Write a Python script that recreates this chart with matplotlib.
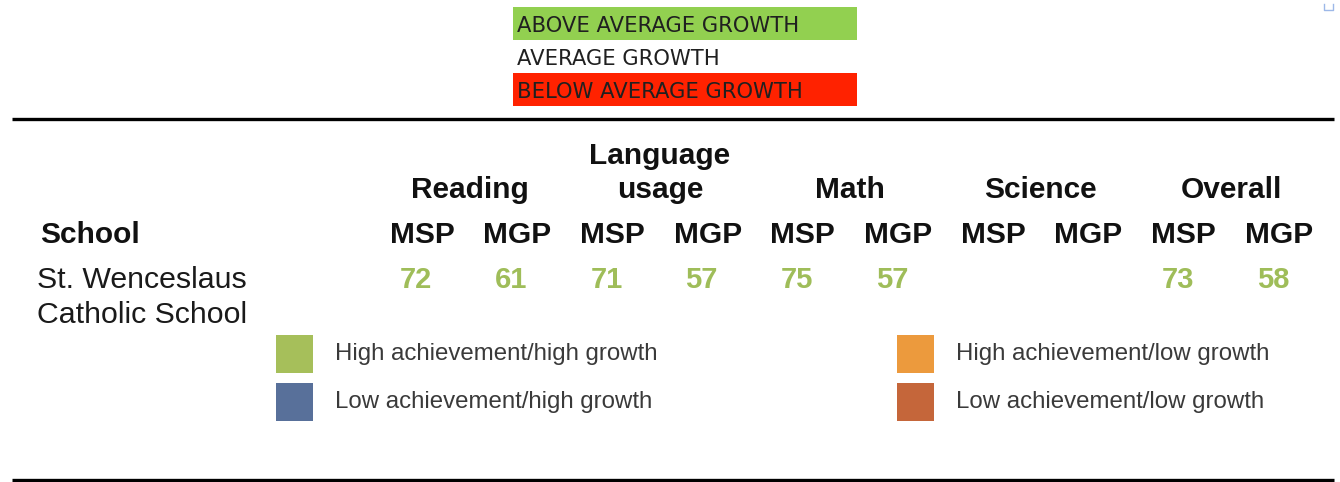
import matplotlib
matplotlib.use("Agg")
import matplotlib.pyplot as plt
from matplotlib.patches import Rectangle

# ---- data ----
growth_labels = ["ABOVE AVERAGE GROWTH", "AVERAGE GROWTH", "BELOW AVERAGE GROWTH"]
growth_colors = ["#92D050", "none", "#FF2200"]
subjects = ["Reading", "Language\nusage", "Math", "Science", "Overall"]
measures = ["MSP", "MGP"]
school_header = "School"
school_name = "St. Wenceslaus\nCatholic School"
scores = [72, 61, 71, 57, 75, 57, None, None, 73, 58]
quad_labels = ["High achievement/high growth", "Low achievement/high growth",
               "High achievement/low growth", "Low achievement/low growth"]
quad_colors = ["#A6BF5A", "#58709A", "#EC9A3D", "#C5663A"]
value_color = "#9FBD59"

W, H = 1340, 482
fig = plt.figure(figsize=(W / 100, H / 100), dpi=100)
ax = fig.add_axes([0, 0, 1, 1])
ax.set_xlim(0, W)
ax.set_ylim(H, 0)
ax.axis("off")

ARIAL = "Liberation Sans"
TOPF = "DejaVu Sans"

# top growth legend
for i, (lab, col) in enumerate(zip(growth_labels, growth_colors)):
    y0 = 7 + i * 33
    if col != "none":
        ax.add_patch(Rectangle((513, y0), 344, 33, facecolor=col, edgecolor="none"))
    ax.text(517, y0 + 25, lab, fontsize=15.2, family=TOPF, color="#202020",
            va="baseline", ha="left")

# tiny mark top-right
ax.plot([1324, 1324, 1333, 1333], [4, 10, 10, 4], color="#9DB8E8", lw=1)

# rules
ax.plot([12, 1334], [119, 119], color="black", lw=2.4, solid_capstyle="butt")
ax.plot([12, 1334], [480, 480], color="black", lw=2.4, solid_capstyle="butt")

# column layout
col0, dcol = 422, 95.2
cols = [col0 + dcol * i for i in range(len(subjects) * len(measures))]

# subject headers
for j, s in enumerate(subjects):
    cx = (cols[2 * j] + cols[2 * j + 1]) / 2
    lines = s.split("\n")
    for k, ln in enumerate(reversed(lines)):
        ax.text(cx, 198 - 34 * k, ln, fontsize=21.5, family=ARIAL, weight="bold",
                color="#111111", ha="center", va="baseline")

# measure headers
ax.text(40, 243, school_header, fontsize=21.5, family=ARIAL, weight="bold",
        color="#111111", ha="left", va="baseline")
for i, c in enumerate(cols):
    ax.text(c, 243, measures[i % 2], fontsize=21.5, family=ARIAL, weight="bold",
            color="#111111", ha="center", va="baseline")

# school row
for k, ln in enumerate(school_name.split("\n")):
    ax.text(37, 288 + 35 * k, ln, fontsize=21.8, family=ARIAL,
            color="#1a1a1a", ha="left", va="baseline")
for c, v in zip(cols, scores):
    if v is not None:
        ax.text(c - 6, 288, str(v), fontsize=21, family=ARIAL, weight="bold",
                color=value_color, ha="center", va="baseline")

# quadrant legend
qx = [276, 276, 897, 897]
qy = [335, 383, 335, 383]
for x, y, lab, col in zip(qx, qy, quad_labels, quad_colors):
    ax.add_patch(Rectangle((x, y), 37, 38, facecolor=col, edgecolor="none"))
    ax.text(x + 59, y + 25, lab, fontsize=17.3, family=ARIAL, color="#3a3a3a",
            ha="left", va="baseline")

fig.savefig("out.png", dpi=100)
